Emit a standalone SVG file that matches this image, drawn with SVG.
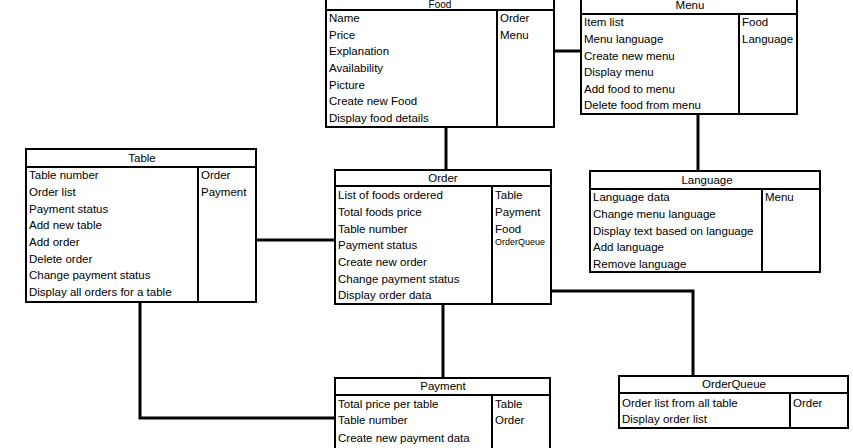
<svg xmlns="http://www.w3.org/2000/svg" width="853" height="448" viewBox="0 0 853 448">
<style>
  .box { fill: #fff; stroke: #000; stroke-width: 2; }
  .ln { stroke: #000; stroke-width: 2; fill: none; }
  .conn { stroke: #000; stroke-width: 3; fill: none; }
  text { font-family: "Liberation Sans", Arial, sans-serif; font-size: 11.5px; fill: #000; }
  .h { text-anchor: middle; }
  .s { font-size: 9px; }
  .t { font-size: 10px; }
</style>
<rect width="853" height="448" fill="#fff"/>
<g id="connectors">
  <line class="conn" x1="554" y1="51" x2="581" y2="51"/>
  <line class="conn" x1="446" y1="127" x2="446" y2="170"/>
  <line class="conn" x1="698" y1="114" x2="698" y2="171"/>
  <line class="conn" x1="256" y1="240" x2="335" y2="240"/>
  <polyline class="conn" points="140,302 140,418 335,418"/>
  <line class="conn" x1="443" y1="304" x2="443" y2="378"/>
  <polyline class="conn" points="551,291 693,291 693,376"/>
</g>
<g id="food">
  <rect class="box" x="326" y="-12" width="228" height="139"/>
  <line class="ln" x1="326" y1="10" x2="554" y2="10"/>
  <line class="ln" x1="497" y1="10" x2="497" y2="127"/>
  <text class="h t" x="440" y="8">Food</text>
  <text x="329" y="22">Name</text>
  <text x="329" y="39">Price</text>
  <text x="329" y="55">Explanation</text>
  <text x="329" y="72">Availability</text>
  <text x="329" y="89">Picture</text>
  <text x="329" y="105">Create new Food</text>
  <text x="329" y="122">Display food details</text>
  <text x="500" y="22">Order</text>
  <text x="500" y="39">Menu</text>
</g>
<g id="menu">
  <rect class="box" x="581" y="-6" width="216" height="120"/>
  <line class="ln" x1="581" y1="14" x2="797" y2="14"/>
  <line class="ln" x1="739" y1="14" x2="739" y2="114"/>
  <text class="h" x="690" y="9">Menu</text>
  <text x="584" y="26">Item list</text>
  <text x="584" y="43">Menu language</text>
  <text x="584" y="60">Create new menu</text>
  <text x="584" y="76">Display menu</text>
  <text x="584" y="93">Add food to menu</text>
  <text x="584" y="109">Delete food from menu</text>
  <text x="742" y="26">Food</text>
  <text x="742" y="43">Language</text>
</g>
<g id="table">
  <rect class="box" x="26" y="149" width="230" height="153"/>
  <line class="ln" x1="26" y1="167" x2="256" y2="167"/>
  <line class="ln" x1="198" y1="167" x2="198" y2="302"/>
  <text class="h" x="142" y="162">Table</text>
  <text x="29" y="179">Table number</text>
  <text x="29" y="196">Order list</text>
  <text x="29" y="213">Payment status</text>
  <text x="29" y="229">Add new table</text>
  <text x="29" y="246">Add order</text>
  <text x="29" y="263">Delete order</text>
  <text x="29" y="279">Change payment status</text>
  <text x="29" y="296">Display all orders for a table</text>
  <text x="201" y="179">Order</text>
  <text x="201" y="196">Payment</text>
</g>
<g id="order">
  <rect class="box" x="335" y="170" width="216" height="134"/>
  <line class="ln" x1="335" y1="186" x2="551" y2="186"/>
  <line class="ln" x1="492" y1="186" x2="492" y2="304"/>
  <text class="h" x="443" y="182">Order</text>
  <text x="338" y="199">List of foods ordered</text>
  <text x="338" y="216">Total foods price</text>
  <text x="338" y="233">Table number</text>
  <text x="338" y="249">Payment status</text>
  <text x="338" y="266">Create new order</text>
  <text x="338" y="283">Change payment status</text>
  <text x="338" y="299">Display order data</text>
  <text x="495" y="199">Table</text>
  <text x="495" y="216">Payment</text>
  <text x="495" y="233">Food</text>
  <text class="s" x="495" y="245">OrderQueue</text>
</g>
<g id="language">
  <rect class="box" x="590" y="171" width="230" height="101"/>
  <line class="ln" x1="590" y1="189" x2="820" y2="189"/>
  <line class="ln" x1="762" y1="189" x2="762" y2="272"/>
  <text class="h" x="707" y="184">Language</text>
  <text x="593" y="201">Language data</text>
  <text x="593" y="218">Change menu language</text>
  <text x="593" y="235">Display text based on language</text>
  <text x="593" y="251">Add language</text>
  <text x="593" y="268">Remove language</text>
  <text x="765" y="201">Menu</text>
</g>
<g id="payment">
  <rect class="box" x="335" y="378" width="215" height="80"/>
  <line class="ln" x1="335" y1="395" x2="550" y2="395"/>
  <line class="ln" x1="492" y1="395" x2="492" y2="458"/>
  <text class="h" x="443" y="390">Payment</text>
  <text x="338" y="408">Total price per table</text>
  <text x="338" y="424">Table number</text>
  <text x="338" y="442">Create new payment data</text>
  <text x="495" y="408">Table</text>
  <text x="495" y="424">Order</text>
</g>
<g id="orderqueue">
  <rect class="box" x="619" y="376" width="229" height="52"/>
  <line class="ln" x1="619" y1="393" x2="848" y2="393"/>
  <line class="ln" x1="790" y1="393" x2="790" y2="428"/>
  <text class="h" x="734" y="388">OrderQueue</text>
  <text x="622" y="407">Order list from all table</text>
  <text x="622" y="423">Display order list</text>
  <text x="793" y="407">Order</text>
</g>
</svg>
